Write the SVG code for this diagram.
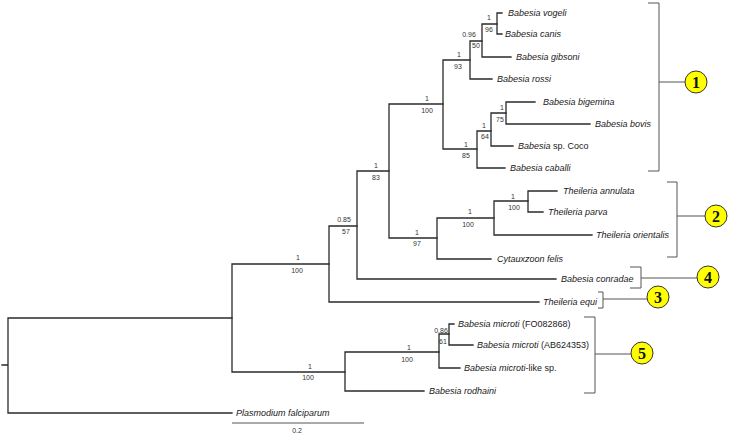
<svg xmlns="http://www.w3.org/2000/svg" width="730" height="434" viewBox="0 0 730 434">
<style>
.br{fill:none;stroke:#2a2a2a;stroke-width:1.3;stroke-linecap:square}
.bk{fill:none;stroke:#555;stroke-width:1}
.tx{font-family:"Liberation Sans",Arial,sans-serif;font-size:9px;fill:#1a1a1a}
.it{font-style:italic}
.sp{font-family:"Liberation Sans",Arial,sans-serif;font-size:7px;fill:#333;text-anchor:middle}
.cir{fill:#ffff00;stroke:#333;stroke-width:1}
.num{font-family:"Liberation Serif","Times New Roman",serif;font-weight:bold;font-size:16px;fill:#111;text-anchor:middle}
</style>
<rect width="730" height="434" fill="#fff"/>
<g id="connectors" class="br">
<path d="M2,365H8M8,318V413M8,318H232M8,413H232"/>
<path d="M232,264V372M232,264H329M232,372H345"/>
<path d="M329,226V302M329,226H357M329,302H539"/>
<path d="M357,171V279M357,171H389M357,279H556"/>
<path d="M389,104V238M389,104H443M389,238H437"/>
<path d="M443,60V149M443,60H470M443,149H477"/>
<path d="M470,41V79M470,41H482M470,79H492"/>
<path d="M482,24V57M482,24H497M482,57H511"/>
<path d="M497,13V34M497,13H502M497,34H502"/>
<path d="M477,131V168M477,131H491M477,168H505"/>
<path d="M491,113V146M491,113H506M491,146H513"/>
<path d="M506,102V124M506,102H535M506,124H590"/>
<path d="M437,218V259M437,218H494M437,259H491"/>
<path d="M494,201V235M494,201H528M494,235H592"/>
<path d="M528,191V212M528,191H557M528,212H543"/>
<path d="M345,352V391M345,352H439M345,391H424"/>
<path d="M439,334V368M439,334H449M439,368H460"/>
<path d="M449,324V345M449,324H454M449,345H473"/>
</g>
<g id="taxa">
<g id="t-vogeli"><text class="tx it" x="508" y="16">Babesia vogeli</text></g>
<g id="t-canis"><text class="tx it" x="505" y="37">Babesia canis</text></g>
<g id="t-gibsoni"><text class="tx it" x="516" y="60">Babesia gibsoni</text></g>
<g id="t-rossi"><text class="tx it" x="497" y="82">Babesia rossi</text></g>
<g id="t-bigemina"><text class="tx it" x="543" y="105">Babesia bigemina</text></g>
<g id="t-bovis"><text class="tx it" x="595" y="127">Babesia bovis</text></g>
<g id="t-coco"><text class="tx" x="518" y="149"><tspan class="it">Babesia</tspan> sp. Coco</text></g>
<g id="t-caballi"><text class="tx it" x="510" y="171">Babesia caballi</text></g>
<g id="t-annulata"><text class="tx it" x="563" y="194">Theileria annulata</text></g>
<g id="t-parva"><text class="tx it" x="548" y="215">Theileria parva</text></g>
<g id="t-orientalis"><text class="tx it" x="596" y="238">Theileria orientalis</text></g>
<g id="t-cytauxzoon"><text class="tx it" x="497" y="262">Cytauxzoon felis</text></g>
<g id="t-conradae"><text class="tx it" x="561" y="282">Babesia conradae</text></g>
<g id="t-equi"><text class="tx it" x="543" y="305">Theileria equi</text></g>
<g id="t-fo"><text class="tx" x="458" y="327"><tspan class="it">Babesia microti</tspan> (FO082868)</text></g>
<g id="t-ab"><text class="tx" x="477" y="348"><tspan class="it">Babesia microti</tspan> (AB624353)</text></g>
<g id="t-like"><text class="tx" x="464" y="371"><tspan class="it">Babesia microti</tspan>-like sp.</text></g>
<g id="t-rodhaini"><text class="tx it" x="429" y="394">Babesia rodhaini</text></g>
<g id="t-plasmodium"><text class="tx it" x="236" y="416">Plasmodium falciparum</text></g>
</g>
<g id="support">
<g id="n497"><text class="sp" x="489" y="19.5">1</text><text class="sp" x="489" y="31.5">96</text></g>
<g id="n482"><text class="sp" x="469" y="36.5">0.96</text><text class="sp" x="476" y="47.5">50</text></g>
<g id="n470"><text class="sp" x="459" y="56.5">1</text><text class="sp" x="458" y="68.5">93</text></g>
<g id="n443"><text class="sp" x="427" y="100.5">1</text><text class="sp" x="427" y="112.5">100</text></g>
<g id="n506"><text class="sp" x="502" y="109.5">1</text><text class="sp" x="500" y="121.5">75</text></g>
<g id="n491"><text class="sp" x="484" y="127.5">1</text><text class="sp" x="485" y="138.5">64</text></g>
<g id="n477"><text class="sp" x="466" y="146.5">1</text><text class="sp" x="466" y="157.5">85</text></g>
<g id="n389"><text class="sp" x="376" y="167.5">1</text><text class="sp" x="376" y="179.5">83</text></g>
<g id="n528"><text class="sp" x="513" y="198.5">1</text><text class="sp" x="514" y="209.5">100</text></g>
<g id="n494"><text class="sp" x="470" y="213.5">1</text><text class="sp" x="468" y="226.5">100</text></g>
<g id="n437"><text class="sp" x="417" y="234.5">1</text><text class="sp" x="417" y="245.5">97</text></g>
<g id="n357"><text class="sp" x="344" y="221.5">0.85</text><text class="sp" x="346" y="233.5">57</text></g>
<g id="n329"><text class="sp" x="298" y="259.5">1</text><text class="sp" x="297" y="272.5">100</text></g>
<g id="n345"><text class="sp" x="310" y="368.5">1</text><text class="sp" x="308" y="379.5">100</text></g>
<g id="n439"><text class="sp" x="409" y="349.5">1</text><text class="sp" x="407" y="361.5">100</text></g>
<g id="n449"><text class="sp" x="441" y="332.5">0.86</text><text class="sp" x="443" y="343.5">61</text></g>
</g>
<g id="scale">
<path d="M232,423H364" stroke="#555" stroke-width="1"/>
<text class="sp" x="297" y="433">0.2</text>
</g>
<g id="clade1">
<path class="bk" d="M648,3H659V171H648M659,82H685"/>
<circle class="cir" cx="696" cy="82" r="11"/>
<text class="num" x="696" y="88">1</text>
</g>
<g id="clade2">
<path class="bk" d="M667,182H677V257H667M677,216H705"/>
<circle class="cir" cx="716" cy="216" r="11"/>
<text class="num" x="716" y="222">2</text>
</g>
<g id="clade4">
<path class="bk" d="M630,267H641V288H630M641,278H697"/>
<circle class="cir" cx="708" cy="277" r="11"/>
<text class="num" x="708" y="283">4</text>
</g>
<g id="clade3">
<path class="bk" d="M598,292H603V308H598M603,299H647"/>
<circle class="cir" cx="658" cy="297" r="11"/>
<text class="num" x="658" y="303">3</text>
</g>
<g id="clade5">
<path class="bk" d="M584,317H595V393H584M595,354H631"/>
<circle class="cir" cx="642" cy="353" r="11"/>
<text class="num" x="642" y="359">5</text>
</g>
</svg>
